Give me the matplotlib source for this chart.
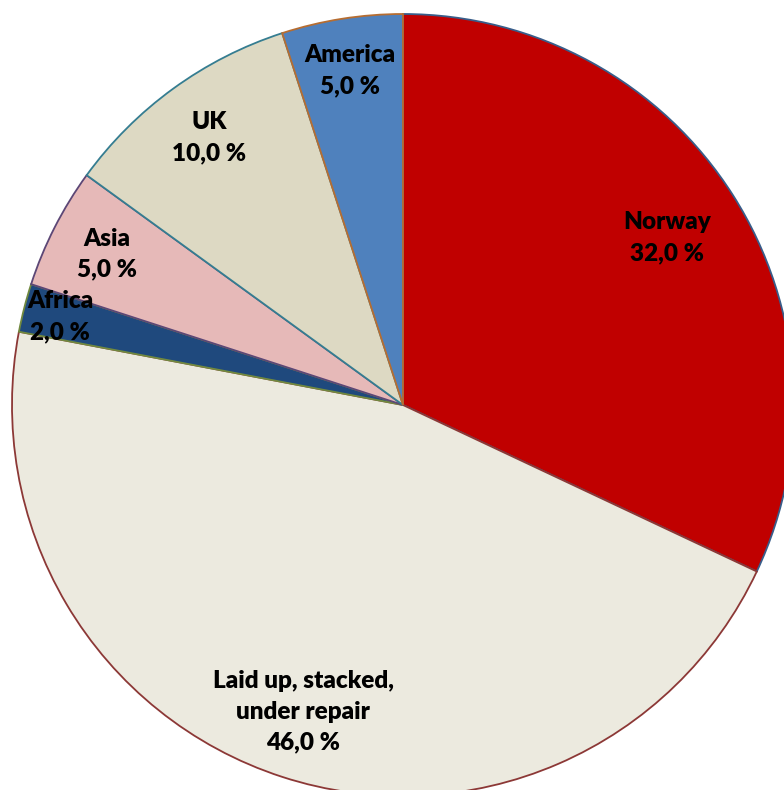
import numpy as np
import matplotlib.pyplot as plt

# pie data, clockwise from 12 o'clock
labels = ["Norway", "Laid up, stacked,\nunder repair", "Africa", "Asia", "UK", "America"]
shares = [32.0, 46.0, 2.0, 5.0, 10.0, 5.0]
fills = ["#C00000", "#ECEADF", "#1F497D", "#E6B9B8", "#DDD9C3", "#4F81BD"]
edges = ["#385D8A", "#8C3836", "#71893F", "#5C4776", "#357D91", "#B66D31"]
label_dist = [0.80, 0.825, 0.905, 0.85, 0.845, 0.865]

fig = plt.figure(figsize=(7.84, 7.90), dpi=100)
ax = fig.add_axes([0, 0, 1, 1])

wedges, _ = ax.pie(shares, colors=fills, startangle=90, counterclock=False,
                   radius=1.0, center=(0, 0))
for w, ec in zip(wedges, edges):
    w.set_edgecolor(ec)
    w.set_linewidth(1.3)

# labels at mid-angle of each wedge
for w, lab, val, d in zip(wedges, labels, shares, label_dist):
    ang = np.deg2rad((w.theta1 + w.theta2) / 2)
    txt = lab + "\n" + f"{val:.1f}".replace(".", ",") + " %"
    ax.text(d * np.cos(ang), d * np.sin(ang), txt, ha="center", va="center",
            fontsize=17.5, fontweight="heavy", family="Lato", linespacing=1.5)

ax.set_xlim(-403 / 391, 381 / 391)
ax.set_ylim(-385 / 391, 405 / 391)
ax.set_aspect("auto")
ax.axis("off")

plt.savefig("out.png", dpi=100)
